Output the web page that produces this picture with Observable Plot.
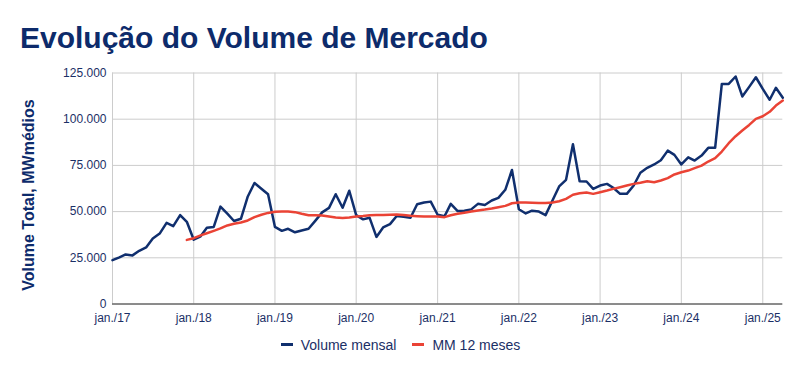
<!DOCTYPE html>
<html><head><meta charset="utf-8">
<script src="https://cdn.jsdelivr.net/npm/d3@7"></script>
<script src="https://cdn.jsdelivr.net/npm/@observablehq/plot@0.6"></script>
<style>
body{margin:0;background:#fff;font-family:Arial,"Liberation Sans",sans-serif;}
#wrap{position:relative;width:801px;height:371px;overflow:hidden;background:#fff;}
#title{position:absolute;left:20px;top:23px;font-size:30px;line-height:30px;font-weight:bold;color:#0d2b6b;white-space:nowrap;}
#ylabel{position:absolute;left:28.5px;top:195px;transform:translate(-50%,-50%) rotate(-90deg);font-size:16px;line-height:16px;font-weight:bold;color:#0d2b6b;white-space:nowrap;}
#chart{position:absolute;left:0;top:60px;}
#legend{position:absolute;left:0;top:337.5px;width:801px;display:flex;justify-content:center;align-items:center;font-size:14px;line-height:14px;color:#1b2f66;}
.item{display:flex;align-items:center;}
.item + .item{margin-left:16px;}
.sw{width:12px;height:3px;margin-right:8px;}
</style></head><body>
<div id="wrap">
  <div id="title">Evolução do Volume de Mercado</div>
  <div id="chart"></div>
  <div id="ylabel"></div>
  <div id="legend"></div>
</div>
<script>
// ---- data ----
const startYear = 2017; // primeiro mês: jan/17
const volumeMensal = [
  23.7, 25.2, 26.8, 26.3, 28.8, 30.6, 35.4, 38.1, 43.9, 42.1, 48.1, 44.5,
  34.8, 36.6, 41.2, 41.7, 52.7, 48.9, 44.9, 46.1, 58.2, 65.5, 62.4, 59.4,
  41.7, 39.6, 40.7, 38.8, 39.8, 40.7, 45.0, 49.6, 52.0, 59.4, 52.1, 61.3,
  48.1, 45.8, 46.7, 36.3, 41.4, 43.2, 47.6, 47.2, 46.7, 54.0, 54.9, 55.4,
  48.3, 47.5, 54.2, 50.3, 50.5, 51.2, 54.2, 53.6, 56.0, 57.4, 61.8, 72.5,
  51.3, 49.0, 50.5, 50.0, 48.1, 56.0, 63.6, 67.2, 86.4, 66.4, 66.3, 62.3,
  64.1, 65.0, 62.9, 59.6, 59.6, 64.1, 71.0, 73.7, 75.5, 77.8, 83.0, 80.7,
  75.5, 79.4, 77.6, 80.3, 84.5, 84.5, 119.1, 119.1, 123.1, 112.3, 117.5, 122.7,
  116.4, 110.5, 117.0, 111.6
].map(v => v * 1000);
const mm12Inicio = 11; // índice do primeiro mês da média móvel (dez/17)
const mm12 = [
  34.7,
  35.6, 37.1, 38.3, 39.6, 40.9, 42.5, 43.4, 44.1, 45.2, 47.0, 48.3, 49.3,
  49.9, 50.0, 50.0, 49.7, 48.8, 48.0, 48.0, 47.9, 47.3, 46.8, 46.6, 46.8,
  47.3, 47.6, 48.0, 48.1, 48.2, 48.3, 48.4, 48.1, 47.7, 47.5, 47.3, 47.3,
  47.3, 47.0, 48.0, 48.8, 49.4, 50.0, 50.6, 51.1, 51.7, 52.4, 53.1, 54.5,
  54.9, 54.9, 54.8, 54.7, 54.6, 54.9, 55.6, 56.9, 59.1, 59.9, 60.3, 59.6,
  60.5, 61.4, 62.3, 63.2, 64.1, 65.0, 65.6, 66.4, 65.9, 66.8, 68.1, 70.1,
  71.3, 72.2, 73.5, 74.9, 77.1, 78.9, 82.5, 87.0, 90.8, 93.9, 96.9, 100.2,
  101.6, 104.0, 107.4, 110.1
].map(v => v * 1000);
const yTicks = [0, 25000, 50000, 75000, 100000, 125000];
const tickYears = [2017, 2018, 2019, 2020, 2021, 2022, 2023, 2024, 2025];
const seriesNames = ["Volume mensal", "MM 12 meses"];
const seriesColors = ["#102f6e", "#ea4335"];
const yLabel = "Volume Total, MWmédios";

// ---- build tables ----
const monthDate = i => new Date(Date.UTC(startYear, i, 1));
const volTable = volumeMensal.map((v, i) => ({date: monthDate(i), value: v}));
const mmTable = mm12.map((v, i) => ({date: monthDate(mm12Inicio + i), value: v}));
const yearDates = tickYears.map(y => new Date(Date.UTC(y, 0, 1)));
const ptBR = d3.formatLocale({decimal: ",", thousands: ".", grouping: [3], currency: ["R$", ""]});
const fmtY = ptBR.format(",");
const fmtX = d => "jan./" + String(d.getUTCFullYear()).slice(2);
const labelColor = "#1b2f66";

const chart = Plot.plot({
  width: 801,
  height: 272,
  marginTop: 12.5,
  marginBottom: 28.5,
  marginLeft: 112,
  marginRight: 18.7,
  style: {fontFamily: 'Arial, "Liberation Sans", sans-serif', background: "transparent", overflow: "visible"},
  x: {type: "utc", domain: [monthDate(0), monthDate(volumeMensal.length - 1)], axis: null},
  y: {domain: [0, 125000], axis: null},
  marks: [
    Plot.gridY(yTicks, {stroke: "#cccccc", strokeOpacity: 1, strokeWidth: 1}),
    Plot.gridX(yearDates, {stroke: "#cccccc", strokeOpacity: 1, strokeWidth: 1}),
    Plot.ruleY([0], {stroke: "#333333", strokeWidth: 1}),
    Plot.axisY(yTicks, {tickFormat: fmtY, tickSize: 0, tickPadding: 6, fontSize: 12, fill: labelColor, label: null}),
    Plot.axisX(yearDates, {tickFormat: fmtX, tickSize: 0, tickPadding: 9, fontSize: 12, fill: labelColor, label: null}),
    Plot.line(volTable, {x: "date", y: "value", stroke: seriesColors[0], strokeWidth: 2.5}),
    Plot.line(mmTable, {x: "date", y: "value", stroke: seriesColors[1], strokeWidth: 2.5})
  ]
});
document.getElementById("chart").appendChild(chart);
document.getElementById("ylabel").textContent = yLabel;

const legend = document.getElementById("legend");
seriesNames.forEach((name, i) => {
  const item = document.createElement("div");
  item.className = "item";
  const sw = document.createElement("div");
  sw.className = "sw";
  sw.style.background = seriesColors[i];
  const t = document.createElement("span");
  t.textContent = name;
  item.appendChild(sw);
  item.appendChild(t);
  legend.appendChild(item);
});
</script>
</body></html>
